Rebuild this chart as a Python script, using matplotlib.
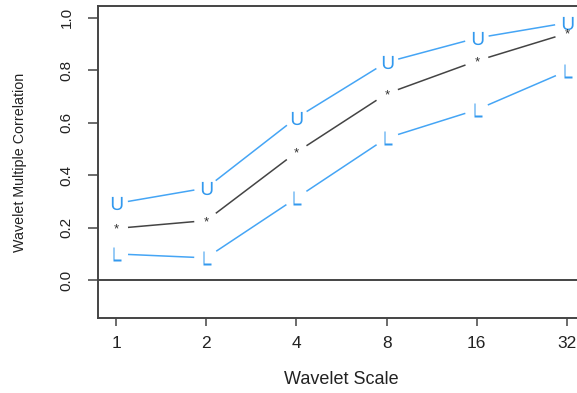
import numpy as np
import matplotlib
matplotlib.use('Agg')
import matplotlib.pyplot as plt
from matplotlib.path import Path
from matplotlib.textpath import TextPath
from matplotlib.font_manager import FontProperties

# wavelet multiple correlation with upper / lower confidence bounds
scales = [1, 2, 4, 8, 16, 32]
estimate = [0.197, 0.227, 0.487, 0.710, 0.835, 0.940]
upper = [0.292, 0.351, 0.618, 0.830, 0.922, 0.980]
lower = [0.100, 0.085, 0.313, 0.541, 0.649, 0.797]

BLUE = '#3399ee'
LINE_BLUE = '#45a5f5'
DARK = '#444444'
FONT = 'Liberation Sans'


def glyph_marker(ch):
    # single character as a marker path centred on its own bounding box
    tp = TextPath((0, 0), ch, size=10, prop=FontProperties(family=FONT))
    verts = tp.vertices.copy()
    lo, hi = verts.min(axis=0), verts.max(axis=0)
    verts -= (lo + hi) / 2
    return Path(verts, tp.codes)


def gapped_line(ax, xs, ys, color, gap=12, lw=1.1):
    # R-style type="b": segments stop short of each point
    pts = ax.transData.transform(np.column_stack([xs, ys]))
    inv = ax.transData.inverted()
    for p0, p1 in zip(pts[:-1], pts[1:]):
        d = p1 - p0
        n = np.hypot(*d)
        if n <= 2 * gap:
            continue
        u = d / n
        a, b = inv.transform([p0 + u * gap, p1 - u * gap])
        ax.plot([a[0], b[0]], [a[1], b[1]], color=color, lw=lw,
                solid_capstyle='butt')


fig = plt.figure(figsize=(5.77, 3.93), dpi=100)
ax = fig.add_axes([98 / 577, 1 - 318 / 393, 487 / 577, 312 / 393])
ax.set_xscale('log', base=2)
ax.set_xlim(2 ** -0.2, 2 ** 5.2)
ax.set_ylim(-0.144, 1.044)

ax.axhline(0, color=DARK, lw=1.4)

gapped_line(ax, scales, upper, LINE_BLUE)
gapped_line(ax, scales, lower, LINE_BLUE)
gapped_line(ax, scales, estimate, DARK)

ax.plot(scales, upper, ls='none', marker=glyph_marker('U'), ms=9.5,
        mfc=BLUE, mec='none')
ax.plot(scales, lower, ls='none', marker=glyph_marker('L'), ms=9.5,
        mfc=BLUE, mec='none')
ax.plot(scales, estimate, ls='none', marker=glyph_marker('*'), ms=6.5,
        mfc='#333333', mec='none')

ax.set_xticks(scales)
ax.set_xticklabels([str(s) for s in scales], fontsize=12.5, family=FONT)
ax.xaxis.set_minor_locator(plt.NullLocator())
yt = [0.0, 0.2, 0.4, 0.6, 0.8, 1.0]
ax.set_yticks(yt)
ax.set_yticklabels(['%.1f' % v for v in yt], fontsize=11, family=FONT,
                   rotation=90, va='center')
ax.tick_params(axis='x', length=6, width=1.1, color=DARK, pad=7,
               labelcolor='#222222')
ax.tick_params(axis='y', length=7.5, width=1.1, color=DARK, pad=10,
               labelcolor='#222222')

for side in ['left', 'bottom', 'top']:
    ax.spines[side].set_color(DARK)
    ax.spines[side].set_linewidth(1.4)
ax.spines['right'].set_visible(False)

ax.set_xlabel('Wavelet Scale', fontsize=13, family=FONT, color='#222222',
              va='center')
ax.xaxis.set_label_coords(0.5, (318 - 380) / 312)
ax.set_ylabel('Wavelet Multiple Correlation', fontsize=10.3, family=FONT,
              color='#222222', va='center')
ax.yaxis.set_label_coords((20 - 98) / 487, 0.5)

fig.savefig('out.png', dpi=100)
